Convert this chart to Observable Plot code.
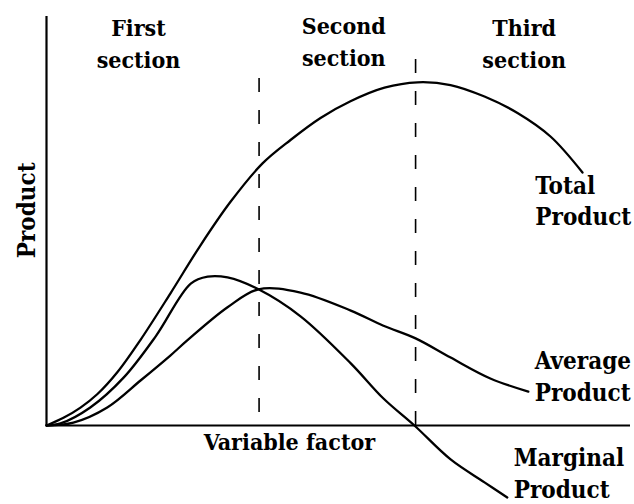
<!DOCTYPE html>
<html>
<head>
<meta charset="utf-8">
<script src="https://cdn.jsdelivr.net/npm/d3@7"></script>
<script src="https://cdn.jsdelivr.net/npm/@observablehq/plot@0.6"></script>
<style>
  html, body { margin: 0; padding: 0; background: #fff; }
</style>
</head>
<body>
<div id="chart"></div>
<script>
// Variable factor (x) and product (y), both in arbitrary 0–100 units
const tpX = [0, 2.91, 5.82, 8.73, 12.16, 16.10, 21.23, 26.37, 31.51, 36.99, 41.78, 46.92, 52.05, 57.88, 63.53, 69.18, 75.0, 80.65, 86.3, 91.78];
const tpY = [0, 1.88, 4.38, 7.70, 13.08, 20.95, 32.32, 44.06, 54.69, 64.08, 69.80, 75.18, 79.27, 82.59, 83.91, 83.25, 80.44, 76.41, 70.66, 61.86];

const mpX = [0, 2.4, 7.5, 13.2, 18.7, 24.7, 27.6, 31.0, 36.3, 43.5, 52.1, 57.7, 63.0, 69.2, 75.0, 78.9];
const mpY = [0, 0.5, 4.4, 11.7, 21.8, 34.7, 36.4, 36.2, 33.3, 26.7, 15.2, 6.6, 0, -8.3, -13.9, -17.6];

const apX = [0, 4.6, 10.4, 16.1, 21.2, 24.1, 31.0, 36.3, 43.5, 52.1, 57.7, 63.2, 69.2, 76.0, 82.5];
const apY = [0, 0.7, 4.4, 11.0, 17.1, 20.8, 28.9, 33.3, 32.5, 28.1, 24.4, 21.3, 16.6, 11.5, 8.3];

// Section boundaries (dashed lines)
const dividerX = [36.4, 63.2];
const dividerTop = [88.8, 90.2];
const dividerBottom = [3.2, 0];

// Section titles
const sectionLabels = ["First\nsection", "Second\nsection", "Third\nsection"];
const sectionX = [15.75, 50.9, 81.8];
const sectionY = [87.3, 88.0, 87.3];

// Curve labels
const curveLabels = ["Total\nProduct", "Average\nProduct", "Marginal\nProduct"];
const curveLabelX = [83.7, 83.6, 80.0];
const curveLabelY = [48.9, 6.1, -17.8];

// Axis titles
const xTitle = "Variable factor";
const yTitle = "Product";

const toPts = (xs, ys) => xs.map((x, i) => ({x, y: ys[i]}));
const tp = toPts(tpX, tpY);
const mp = toPts(mpX, mpY);
const ap = toPts(apX, apY);
const dividers = dividerX.map((x, i) => ({x, y1: dividerBottom[i], y2: dividerTop[i]}));
const sections = sectionLabels.map((t, i) => ({t, x: sectionX[i], y: sectionY[i]}));
const curveTexts = curveLabels.map((t, i) => ({t, x: curveLabelX[i], y: curveLabelY[i]}));

const font = "DejaVu Serif Condensed, DejaVu Serif";
const base = {fontSize: 24, fontWeight: "bold", fill: "#000", lineHeight: 1.33, lineAnchor: "bottom", fontFamily: font};
const lineOpts = {x: "x", y: "y", curve: "catmull-rom", stroke: "#000", strokeWidth: 2.3, strokeLinecap: "round"};

const chart = Plot.plot({
  width: 634,
  height: 504,
  marginLeft: 46,
  marginRight: 4,
  marginTop: 16,
  marginBottom: 79,
  x: {domain: [0, 100], axis: null},
  y: {domain: [0, 100], axis: null},
  style: {background: "#fff", overflow: "visible", fontFamily: font},
  marks: [
    Plot.ruleX(dividers, {x: "x", y1: "y1", y2: "y2", stroke: "#000", strokeWidth: 1.6, strokeDasharray: "14,18"}),
    Plot.ruleX([0], {y1: 0, y2: 100, stroke: "#000", strokeWidth: 2.2}),
    Plot.ruleY([0], {x1: 0, x2: 100, stroke: "#000", strokeWidth: 2.2}),
    Plot.line(tp, lineOpts),
    Plot.line(ap, lineOpts),
    Plot.line(mp, lineOpts),
    Plot.text(sections, {x: "x", y: "y", text: "t", textAnchor: "middle", ...base, fontSize: 23, lineHeight: 1.39}),
    Plot.text(curveTexts, {x: "x", y: "y", text: "t", textAnchor: "start", ...base}),
    Plot.text([xTitle], {x: 41.6, y: -6.1, text: d => d, textAnchor: "middle", ...base, fontSize: 23}),
    Plot.text([yTitle], {x: -3.77, y: 52.6, text: d => d, rotate: -90, textAnchor: "middle", ...base, lineAnchor: "middle"})
  ]
});
document.getElementById("chart").appendChild(chart);
</script>
</body>
</html>
